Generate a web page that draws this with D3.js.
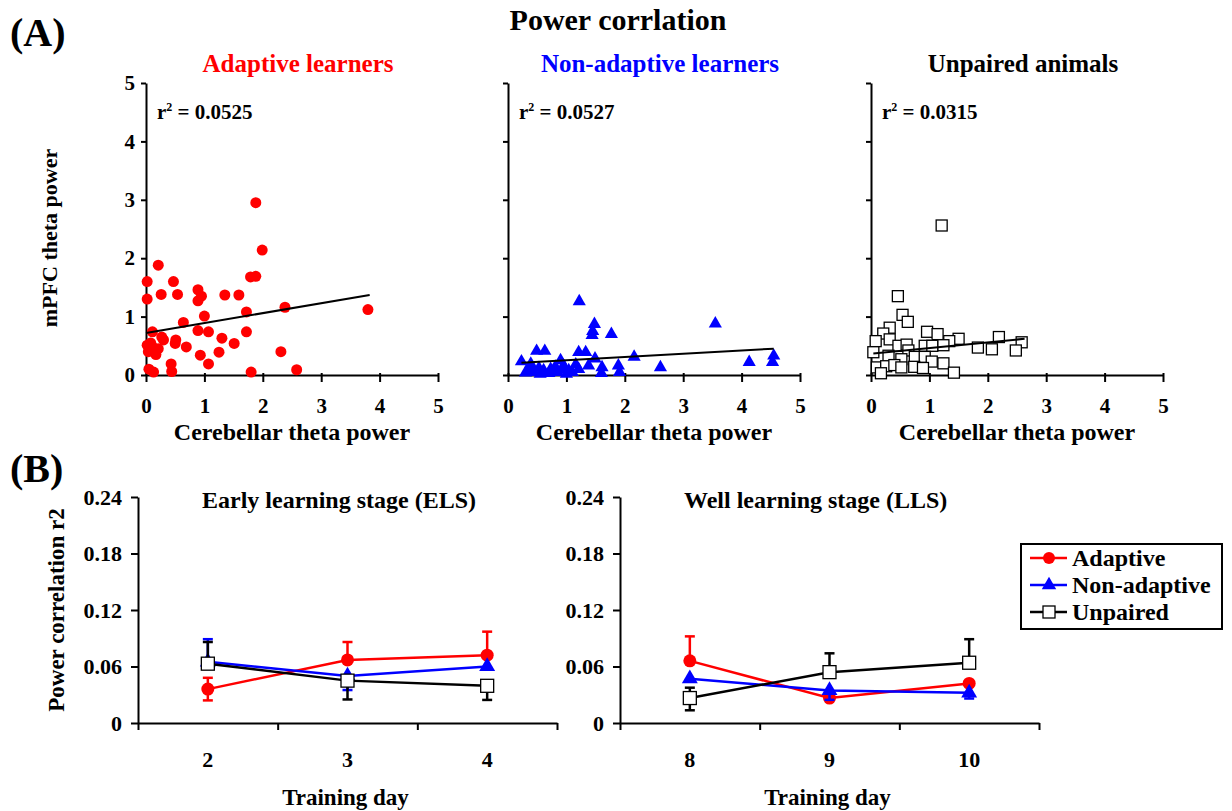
<!DOCTYPE html>
<html><head><meta charset="utf-8">
<script src="https://cdn.jsdelivr.net/npm/d3@7"></script>
<style>
html,body{margin:0;padding:0;background:#fff;}
text{font-family:"Liberation Serif","Times New Roman",serif;font-weight:bold;fill:#000;}
</style></head>
<body><svg id="chart" width="1232" height="811"></svg>
<script>
// ---------- DATA ----------
const scatterTicks = [0, 1, 2, 3, 4, 5];

const adaptiveX = [1.88,1.99,0.21,0.02,0.47,1.79,1.88,0.02,0.26,0.54,0.89,0.95,0.89,1.35,1.59,1.00,0.64,1.72,2.38,3.80,0.11,0.89,1.07,1.72,0.27,0.30,0.02,0.50,0.51,1.30,0.69,1.51,0.13,0.21,0.10,0.04,0.93,1.25,2.31,1.07,0.43,0.44,0.05,0.13,1.80,2.58,0.17,0.08];
const adaptiveY = [2.95,2.14,1.88,1.60,1.60,1.68,1.69,1.30,1.38,1.38,1.46,1.35,1.27,1.37,1.37,1.01,0.90,1.08,1.16,1.12,0.74,0.76,0.74,0.74,0.65,0.60,0.51,0.54,0.60,0.63,0.48,0.54,0.42,0.45,0.50,0.40,0.34,0.39,0.40,0.19,0.19,0.06,0.10,0.05,0.05,0.09,0.35,0.55];

const nonAdaptiveX = [1.22,1.48,1.45,1.44,1.77,3.55,0.23,0.49,0.63,1.21,1.33,1.49,2.16,2.61,4.13,4.55,4.53,1.61,1.60,1.89,1.91,1.38,0.36,0.44,0.53,0.61,0.73,0.81,0.90,0.93,1.04,1.10,1.16,0.84,0.39,0.95,1.21,0.55,0.70,1.00,0.30];
const nonAdaptiveY = [1.26,0.87,0.75,0.68,0.70,0.88,0.23,0.41,0.41,0.39,0.39,0.28,0.31,0.13,0.22,0.33,0.22,0.13,0.03,0.16,0.05,0.16,0.10,0.05,0.12,0.08,0.10,0.14,0.25,0.09,0.08,0.05,0.18,0.05,0.19,0.16,0.10,0.02,0.03,0.02,0.04];

const unpairedX = [1.21,0.46,0.54,0.63,0.32,0.21,0.08,0.32,0.96,1.14,1.50,1.34,2.19,2.58,1.83,2.07,2.48,0.04,0.47,0.61,0.92,1.05,1.24,0.30,0.64,0.75,0.92,0.52,1.04,0.10,0.26,0.40,0.74,0.89,1.24,1.42,0.17,0.52];
const unpairedY = [2.56,1.35,1.03,0.91,0.81,0.71,0.58,0.61,0.74,0.70,0.62,0.58,0.65,0.56,0.47,0.44,0.42,0.39,0.50,0.52,0.50,0.50,0.51,0.33,0.42,0.31,0.31,0.27,0.23,0.13,0.15,0.17,0.14,0.12,0.20,0.04,0.03,0.13];

// regression lines (endpoints in data units)
const adaptiveFitX = [0, 3.83],    adaptiveFitY = [0.72, 1.37];
const nonAdaptiveFitX = [0.23, 4.55], nonAdaptiveFitY = [0.21, 0.45];
const unpairedFitX = [0.04, 2.63], unpairedFitY = [0.37, 0.62];

const scatterTitles = ["Adaptive learners", "Non-adaptive learners", "Unpaired animals"];
const r2Values = ["0.0525", "0.0527", "0.0315"];

// Panel B
const trainingDaysELS = ["2", "3", "4"];
const trainingDaysLLS = ["8", "9", "10"];
const r2Ticks = [0, 0.06, 0.12, 0.18, 0.24];
const r2TickLabels = ["0", "0.06", "0.12", "0.18", "0.24"];
const stageTitles = ["Early learning stage (ELS)", "Well learning stage (LLS)"];
const seriesNames = ["Adaptive", "Non-adaptive", "Unpaired"];

// values for days 2,3,4 (ELS) then 8,9,10 (LLS)
const adaptiveR2    = [0.036, 0.067, 0.072, 0.066, 0.0265, 0.042];
const adaptiveHi    = [0.012, 0.019, 0.025, 0.026, 0, 0];
const adaptiveLo    = [0.012, 0, 0, 0, 0, 0];
const nonAdaptiveR2 = [0.065, 0.050, 0.060, 0.047, 0.0346, 0.032];
const nonAdaptiveHi = [0.024, 0, 0, 0, 0, 0];
const nonAdaptiveLo = [0, 0.015, 0, 0, 0.010, 0.006];
const unpairedR2    = [0.063, 0.045, 0.0395, 0.0265, 0.054, 0.064];
const unpairedHi    = [0.023, 0, 0, 0.011, 0.020, 0.025];
const unpairedLo    = [0, 0.020, 0.015, 0.013, 0, 0];

// ---------- DRAW ----------
const svg = d3.select("#chart");
const RED = "#ff0000", BLUE = "#0000ff", BLACK = "#000";

svg.append("text").attr("x", 618).attr("y", 30).attr("text-anchor", "middle")
  .style("font-size", "30px").text("Power corrlation");
svg.append("text").attr("x", 10).attr("y", 46).style("font-size", "40px").text("(A)");
svg.append("text").attr("x", 10).attr("y", 482).style("font-size", "40px").text("(B)");

function marker(g, shape, color, size) {
  if (shape === "circle") {
    return g.append("circle").attr("r", size).attr("fill", color);
  } else if (shape === "triangle") {
    return g.append("path").attr("d", d3.symbol(d3.symbolTriangle).size(size)()).attr("fill", color);
  } else {
    return g.append("rect").attr("x", -size / 2).attr("y", -size / 2).attr("width", size).attr("height", size)
      .attr("fill", "#fff").attr("stroke", "#000").attr("stroke-width", 1.3);
  }
}

const scatterPanels = [
  {x0: 146, xs: adaptiveX, ys: adaptiveY, fx: adaptiveFitX, fy: adaptiveFitY, shape: "circle", color: RED, size: 5.5, labels: true},
  {x0: 508, xs: nonAdaptiveX, ys: nonAdaptiveY, fx: nonAdaptiveFitX, fy: nonAdaptiveFitY, shape: "triangle", color: BLUE, size: 75, labels: false},
  {x0: 871, xs: unpairedX, ys: unpairedY, fx: unpairedFitX, fy: unpairedFitY, shape: "square", color: BLACK, size: 11, labels: false}
];
const titleColors = [RED, BLUE, BLACK];

scatterPanels.forEach((p, i) => {
  const x = d3.scaleLinear().domain([0, 5]).range([p.x0, p.x0 + 292]);
  const y = d3.scaleLinear().domain([0, 5]).range([375, 83]);
  const g = svg.append("g");

  const ya = g.append("g").attr("transform", `translate(${p.x0},0)`)
    .call(d3.axisLeft(y).tickValues(scatterTicks).tickSize(5).tickSizeOuter(0).tickPadding(6)
      .tickFormat(p.labels ? d3.format("d") : ""));
  const xa = g.append("g").attr("transform", `translate(0,375)`)
    .call(d3.axisBottom(x).tickValues(scatterTicks).tickSize(7).tickSizeOuter(0).tickPadding(16).tickFormat(d3.format("d")));
  [ya, xa].forEach(a => {
    a.select(".domain").attr("stroke-width", 2);
    a.selectAll(".tick line").attr("stroke-width", 2);
    a.selectAll("text").style("font-size", "21px").attr("font-family", null);
  });
  xa.selectAll(".tick line").attr("y1", -2);

  // points
  p.xs.forEach((v, k) => {
    const m = g.append("g").attr("transform", `translate(${x(v)},${y(p.ys[k])})`);
    marker(m, p.shape, p.color, p.size);
  });
  // fit line
  g.append("line").attr("x1", x(p.fx[0])).attr("y1", y(p.fy[0]))
    .attr("x2", x(p.fx[1])).attr("y2", y(p.fy[1])).attr("stroke", "#000").attr("stroke-width", 2);

  // titles
  g.append("text").attr("x", p.x0 + 152).attr("y", 72).attr("text-anchor", "middle")
    .style("font-size", "25px").style("fill", titleColors[i]).text(scatterTitles[i]);
  const rt = g.append("text").attr("x", p.x0 + 11).attr("y", 119).style("font-size", "21px");
  rt.append("tspan").text("r");
  rt.append("tspan").attr("dy", -8).style("font-size", "12px").text("2");
  rt.append("tspan").attr("dy", 8).text(" = " + r2Values[i]);
  g.append("text").attr("x", p.x0 + 146).attr("y", 440).attr("text-anchor", "middle")
    .style("font-size", "24px").text("Cerebellar theta power");
});

svg.append("text").attr("transform", "translate(57,238) rotate(-90)").attr("text-anchor", "middle")
  .style("font-size", "22px").text("mPFC theta power");

// Panel B
const seriesVals = [adaptiveR2, nonAdaptiveR2, unpairedR2];
const seriesHi = [adaptiveHi, nonAdaptiveHi, unpairedHi];
const seriesLo = [adaptiveLo, nonAdaptiveLo, unpairedLo];
const seriesColor = [RED, BLUE, BLACK];
const seriesShape = ["circle", "triangle", "square"];
const seriesSize = [6.5, 110, 13];

const stages = [
  {x0: 138, days: trainingDaysELS, offset: 0, titleX: 202},
  {x0: 620, days: trainingDaysLLS, offset: 3, titleX: 684}
];
stages.forEach((s, si) => {
  const width = 419;
  const xb = d3.scaleBand().domain(s.days).range([s.x0, s.x0 + width]);
  const xe = d3.scaleLinear().domain([0, 3]).range([s.x0, s.x0 + width]);
  const y = d3.scaleLinear().domain([0, 0.24]).range([723, 497]);
  const g = svg.append("g");

  const ya = g.append("g").attr("transform", `translate(${s.x0},0)`)
    .call(d3.axisLeft(y).tickValues(r2Ticks).tickSize(7).tickSizeOuter(0).tickPadding(9)
      .tickFormat((d, k) => r2TickLabels[k]));
  const xa = g.append("g").attr("transform", `translate(0,723)`)
    .call(d3.axisBottom(xe).tickValues([0, 1, 2, 3]).tickSize(7).tickSizeOuter(0).tickFormat(""));
  [ya, xa].forEach(a => {
    a.select(".domain").attr("stroke-width", 2);
    a.selectAll(".tick line").attr("stroke-width", 2);
    a.selectAll("text").style("font-size", "22px").attr("font-family", null);
  });
  g.selectAll(".daylab").data(s.days).enter().append("text")
    .attr("x", d => xb(d) + xb.bandwidth() / 2).attr("y", 767).attr("text-anchor", "middle")
    .style("font-size", "22px").text(d => d);
  g.append("text").attr("x", s.x0 + width / 2 - 2).attr("y", 805).attr("text-anchor", "middle")
    .style("font-size", "23px").text("Training day");
  g.append("text").attr("x", s.titleX).attr("y", 508).style("font-size", "24px").text(stageTitles[si]);

  seriesVals.forEach((vals, k) => {
    const pts = s.days.map((d, j) => ({d, v: vals[s.offset + j], hi: seriesHi[k][s.offset + j], lo: seriesLo[k][s.offset + j]}));
    const cx = d => xb(d) + xb.bandwidth() / 2;
    g.append("path").datum(pts)
      .attr("d", d3.line().x(p => cx(p.d)).y(p => y(p.v)))
      .attr("fill", "none").attr("stroke", seriesColor[k]).attr("stroke-width", 2.5);
    pts.forEach(p => {
      [[p.hi, 1], [p.lo, -1]].forEach(([e, sgn]) => {
        if (e > 0) {
          const ye = y(p.v + sgn * e);
          g.append("line").attr("x1", cx(p.d)).attr("x2", cx(p.d)).attr("y1", y(p.v)).attr("y2", ye)
            .attr("stroke", seriesColor[k]).attr("stroke-width", 2.5);
          g.append("line").attr("x1", cx(p.d) - 5).attr("x2", cx(p.d) + 5).attr("y1", ye).attr("y2", ye)
            .attr("stroke", seriesColor[k]).attr("stroke-width", 2.5);
        }
      });
    });
    pts.forEach(p => {
      const m = g.append("g").attr("transform", `translate(${cx(p.d)},${y(p.v)})`);
      marker(m, seriesShape[k], seriesColor[k], seriesSize[k]);
    });
  });
});

svg.append("text").attr("transform", "translate(64,610) rotate(-90)").attr("text-anchor", "middle")
  .style("font-size", "23px").text("Power correlation r2");

// legend
const lg = svg.append("g");
lg.append("rect").attr("x", 1021).attr("y", 544).attr("width", 201).attr("height", 85)
  .attr("fill", "#fff").attr("stroke", "#000").attr("stroke-width", 2);
seriesNames.forEach((n, k) => {
  const yy = 558 + k * 27;
  lg.append("line").attr("x1", 1030).attr("x2", 1067).attr("y1", yy).attr("y2", yy)
    .attr("stroke", seriesColor[k]).attr("stroke-width", 2.5);
  const m = lg.append("g").attr("transform", `translate(1049,${yy})`);
  marker(m, seriesShape[k], seriesColor[k], k === 1 ? 90 : (k === 0 ? 6 : 12));
  lg.append("text").attr("x", 1072).attr("y", yy + 8).style("font-size", "24px").text(n);
});
</script></body></html>
